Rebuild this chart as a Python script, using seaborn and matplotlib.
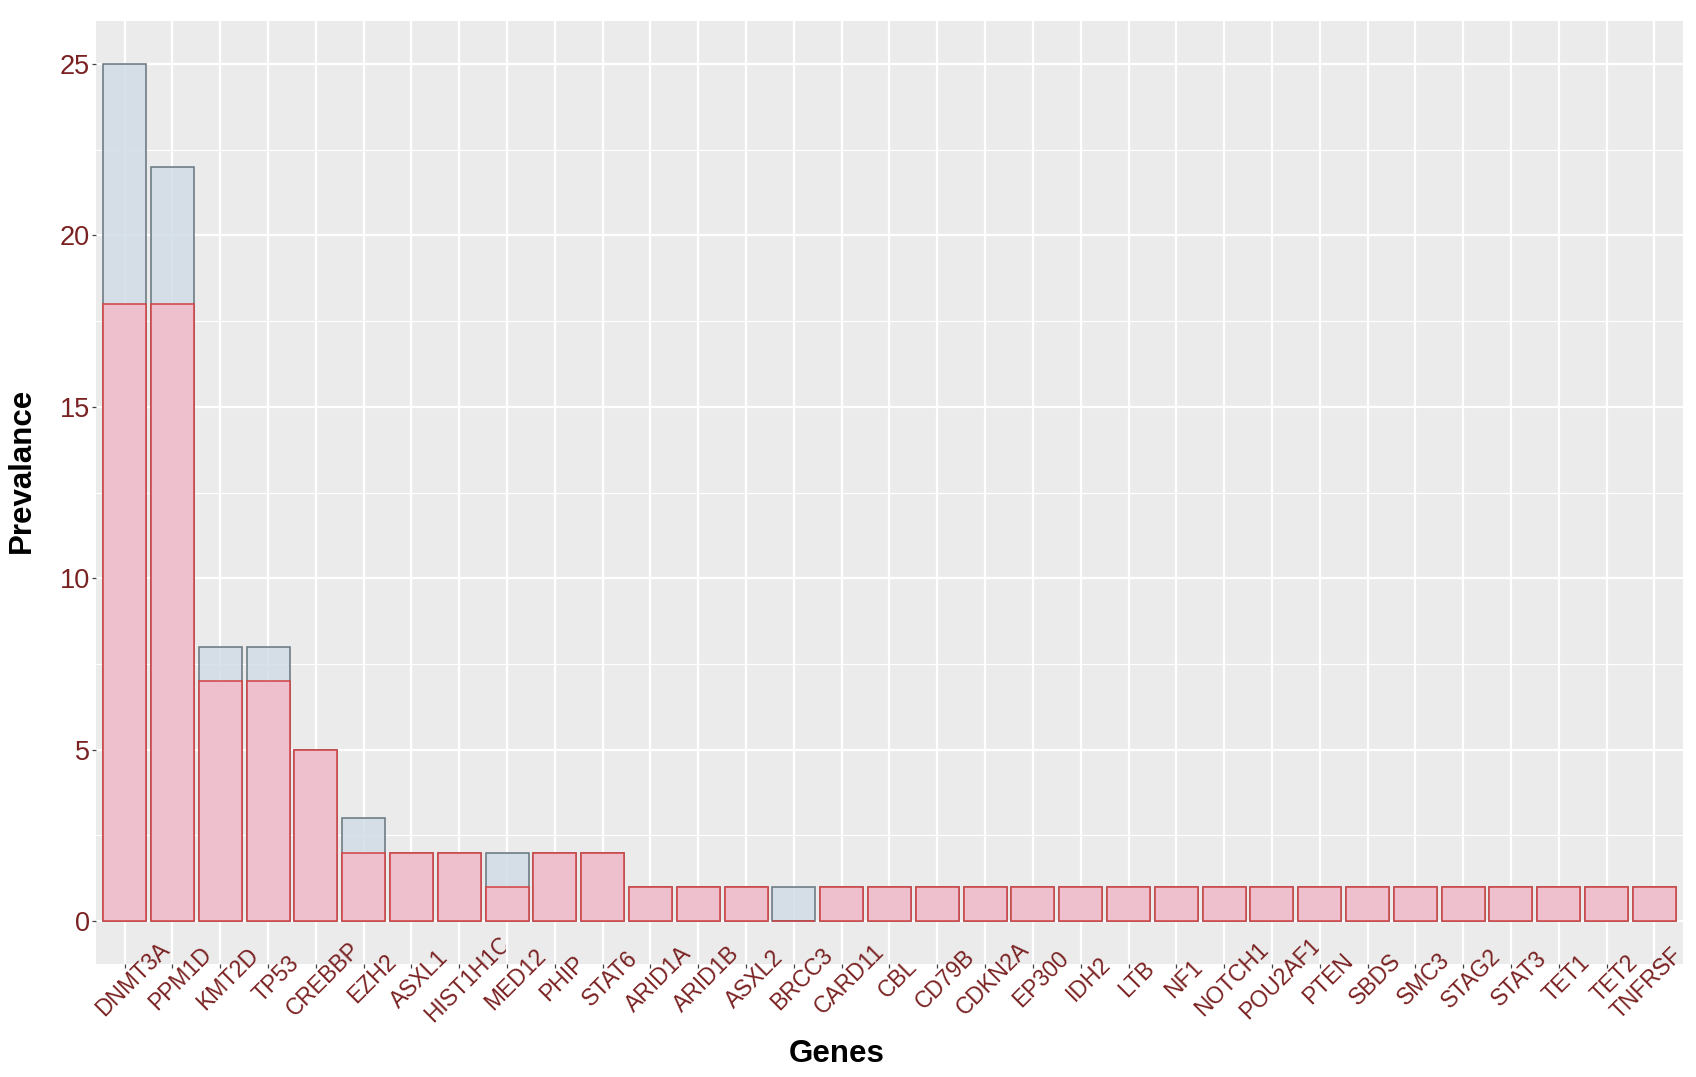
import matplotlib
matplotlib.use("Agg")
import matplotlib.pyplot as plt
import matplotlib.transforms as mtransforms
import seaborn as sns
import pandas as pd

genes = ["DNMT3A", "PPM1D", "KMT2D", "TP53", "CREBBP", "EZH2", "ASXL1", "HIST1H1C",
         "MED12", "PHIP", "STAT6", "ARID1A", "ARID1B", "ASXL2", "BRCC3", "CARD11",
         "CBL", "CD79B", "CDKN2A", "EP300", "IDH2", "LTB", "NF1", "NOTCH1", "POU2AF1",
         "PTEN", "SBDS", "SMC3", "STAG2", "STAT3", "TET1", "TET2", "TNFRSF"]
total_prev = [25, 22, 8, 8, 5, 3, 2, 2, 2, 2, 2, 1, 1, 1, 1, 1,
              1, 1, 1, 1, 1, 1, 1, 1, 1, 1, 1, 1, 1, 1, 1, 1, 1]
subset_prev = [18, 18, 7, 7, 5, 2, 2, 2, 1, 2, 2, 1, 1, 1, 0, 1,
               1, 1, 1, 1, 1, 1, 1, 1, 1, 1, 1, 1, 1, 1, 1, 1, 1]
y_ticks = [0, 5, 10, 15, 20, 25]

df = pd.DataFrame({"gene": genes, "total": total_prev, "subset": subset_prev})

sns.set_theme(style="darkgrid")
plt.rcParams["font.family"] = ["Liberation Sans", "DejaVu Sans"]
plt.rcParams["axes.facecolor"] = "#EBEBEB"

W, H = 1696, 1077
fig = plt.figure(figsize=(W / 100, H / 100), dpi=100)
ax = fig.add_axes([96 / W, 1 - 964 / H, 1587 / W, 943 / H])
ax.set_facecolor("#EBEBEB")
ax.set_axisbelow(True)

sns.barplot(data=df, x="gene", y="total", order=genes, color="#D2DDE6", saturation=1,
            alpha=0.88, edgecolor="#5F6E78", linewidth=1.2, width=0.9, ax=ax, zorder=2)
sns.barplot(data=df, x="gene", y="subset", order=genes, color="#F2BCCA", saturation=1,
            alpha=0.88, edgecolor="#D23B3B", linewidth=1.2, width=0.9, ax=ax, zorder=3)

ax.set_xlim(-0.6, len(genes) - 0.4)
ax.set_ylim(-1.25, 26.25)
ax.set_yticks(y_ticks)
ax.set_yticks([2.5, 7.5, 12.5, 17.5, 22.5], minor=True)
ax.grid(True, which="major", color="white", linewidth=1.6)
ax.grid(True, which="minor", axis="y", color="white", linewidth=0.8)
ax.grid(False, which="minor", axis="x")
for s in ax.spines.values():
    s.set_visible(False)

lab_color = "#7A2222"
ax.tick_params(axis="y", which="major", length=3, width=0.9, color="#444444",
               labelsize=19.5, labelcolor=lab_color, pad=1.5, left=True)
ax.tick_params(axis="y", which="minor", length=0, left=False)
ax.tick_params(axis="x", which="major", length=3, width=0.9, color="#444444",
               labelsize=16.5, labelcolor=lab_color, pad=7.8, bottom=True)
ax.set_xticks(range(len(genes)))
ax.set_xticklabels(genes)
offset = mtransforms.ScaledTranslation(8 / 100, 0, fig.dpi_scale_trans)
last_offset = mtransforms.ScaledTranslation(-8 / 100, -5 / 100, fig.dpi_scale_trans)
labels = ax.get_xticklabels()
for i, lab in enumerate(labels):
    lab.set_rotation(45)
    lab.set_rotation_mode("anchor")
    lab.set_ha("center")
    lab.set_va("center")
    lab.set_transform(lab.get_transform() + (last_offset if i == len(labels) - 1 else offset))

ax.set_xlabel("")
ax.set_ylabel("")
fig.text(837 / W, 1 - 1062 / H, "Genes", ha="center", va="baseline",
         fontsize=22.5, fontweight="bold", color="black")
fig.text(22 / W, 1 - 470 / H, "Prevalance", ha="center", va="center", rotation=90,
         fontsize=22.5, fontweight="bold", color="black")

fig.savefig("out.png", dpi=100, facecolor="white")
